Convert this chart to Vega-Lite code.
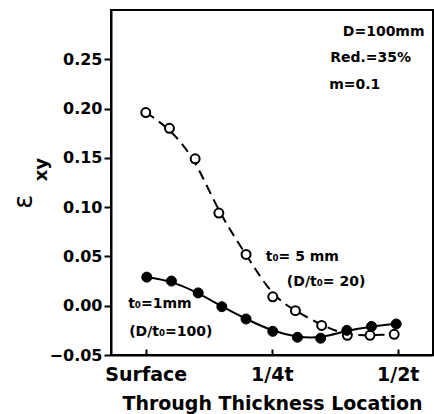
{
  "$schema": "https://vega.github.io/schema/vega-lite/v6.json",
  "autosize": "none",
  "padding": {"left": 111, "top": 10, "right": 1, "bottom": 59},
  "width": 322,
  "height": 345,
  "background": "white",
  "config": {
    "view": {"stroke": "black", "strokeWidth": 2},
    "font": "DejaVu Sans",
    "axis": {"grid": false, "domainColor": "black", "domainWidth": 2, "tickColor": "black", "tickWidth": 2, "labelColor": "black", "titleColor": "black", "labelFont": "DejaVu Sans", "titleFont": "DejaVu Sans"}
  },
  "datasets": {
    "pts": [
      {"series": "t0=5mm", "x": 0.0, "y": 0.196},
      {"series": "t0=5mm", "x": 0.047, "y": 0.180},
      {"series": "t0=5mm", "x": 0.098, "y": 0.149},
      {"series": "t0=5mm", "x": 0.145, "y": 0.094},
      {"series": "t0=5mm", "x": 0.199, "y": 0.052},
      {"series": "t0=5mm", "x": 0.252, "y": 0.009},
      {"series": "t0=5mm", "x": 0.297, "y": -0.005},
      {"series": "t0=5mm", "x": 0.349, "y": -0.020},
      {"series": "t0=5mm", "x": 0.400, "y": -0.030},
      {"series": "t0=5mm", "x": 0.445, "y": -0.030},
      {"series": "t0=5mm", "x": 0.493, "y": -0.029},
      {"series": "t0=1mm", "x": 0.002, "y": 0.029},
      {"series": "t0=1mm", "x": 0.051, "y": 0.025},
      {"series": "t0=1mm", "x": 0.104, "y": 0.013},
      {"series": "t0=1mm", "x": 0.151, "y": -0.001},
      {"series": "t0=1mm", "x": 0.199, "y": -0.0135},
      {"series": "t0=1mm", "x": 0.252, "y": -0.026},
      {"series": "t0=1mm", "x": 0.301, "y": -0.032},
      {"series": "t0=1mm", "x": 0.347, "y": -0.033},
      {"series": "t0=1mm", "x": 0.399, "y": -0.025},
      {"series": "t0=1mm", "x": 0.448, "y": -0.021},
      {"series": "t0=1mm", "x": 0.497, "y": -0.0185}
    ],
    "notes": [
      {"label": "D=100mm", "x": 0.391, "y": 0.278},
      {"label": "Red.=35%", "x": 0.366, "y": 0.2515},
      {"label": "m=0.1", "x": 0.364, "y": 0.224},
      {"label": "t₀= 5 mm", "x": 0.238, "y": 0.049},
      {"label": "(D/t₀= 20)", "x": 0.28, "y": 0.024},
      {"label": "t₀=1mm", "x": -0.035, "y": 0.002},
      {"label": "(D/t₀=100)", "x": -0.033, "y": -0.027}
    ],
    "ytitle": [
      {"part": "main", "label": "ε", "x": -0.2415, "y": 0.1055},
      {"part": "sub", "label": "xy", "x": -0.206, "y": 0.138}
    ]
  },
  "encoding": {
    "x": {
      "field": "x", "type": "quantitative",
      "scale": {"domain": [-0.069, 0.57], "nice": false, "zero": false},
      "axis": {
        "values": [0, 0.25, 0.5],
        "labelExpr": "datum.value == 0 ? 'Surface' : (datum.value == 0.25 ? '1/4t' : '1/2t')",
        "tickSize": -6, "labelPadding": 16, "labelFontSize": 19, "labelFontWeight": "bold",
        "title": "Through  Thickness Location", "titleFontSize": 19, "titleFontWeight": "bold", "titlePadding": 10
      }
    },
    "y": {
      "field": "y", "type": "quantitative",
      "scale": {"domain": [-0.05, 0.30], "nice": false, "zero": false},
      "axis": {
        "values": [-0.05, 0, 0.05, 0.1, 0.15, 0.2, 0.25],
        "format": ".2f", "tickSize": 7, "labelPadding": 2, "labelFontSize": 16, "labelFontWeight": "bold",
        "title": null
      }
    }
  },
  "layer": [
    {
      "data": {"name": "pts"},
      "transform": [{"filter": "datum.series == 't0=5mm'"}],
      "mark": {"type": "line", "interpolate": "basis", "color": "black", "strokeWidth": 2, "strokeDash": [10, 6]}
    },
    {
      "data": {"name": "pts"},
      "transform": [{"filter": "datum.series == 't0=1mm'"}],
      "mark": {"type": "line", "interpolate": "basis", "color": "black", "strokeWidth": 2}
    },
    {
      "data": {"name": "pts"},
      "transform": [{"filter": "datum.series == 't0=5mm'"}],
      "mark": {"type": "point", "shape": "circle", "filled": true, "fill": "white", "stroke": "black", "strokeWidth": 2, "size": 80, "opacity": 1}
    },
    {
      "data": {"name": "pts"},
      "transform": [{"filter": "datum.series == 't0=1mm'"}],
      "mark": {"type": "point", "shape": "circle", "filled": true, "fill": "black", "stroke": "black", "strokeWidth": 1, "size": 100, "opacity": 1}
    },
    {
      "data": {"name": "notes"},
      "mark": {"type": "text", "align": "left", "baseline": "middle", "fontSize": 14, "fontWeight": "bold", "color": "black"},
      "encoding": {"text": {"field": "label"}}
    },
    {
      "data": {"name": "ytitle"},
      "transform": [{"filter": "datum.part == 'main'"}],
      "mark": {"type": "text", "align": "center", "baseline": "middle", "angle": 270, "fontSize": 26, "color": "black"},
      "encoding": {"text": {"field": "label"}}
    },
    {
      "data": {"name": "ytitle"},
      "transform": [{"filter": "datum.part == 'sub'"}],
      "mark": {"type": "text", "align": "center", "baseline": "middle", "angle": 270, "fontSize": 18, "fontWeight": "bold", "color": "black"},
      "encoding": {"text": {"field": "label"}}
    }
  ]
}
